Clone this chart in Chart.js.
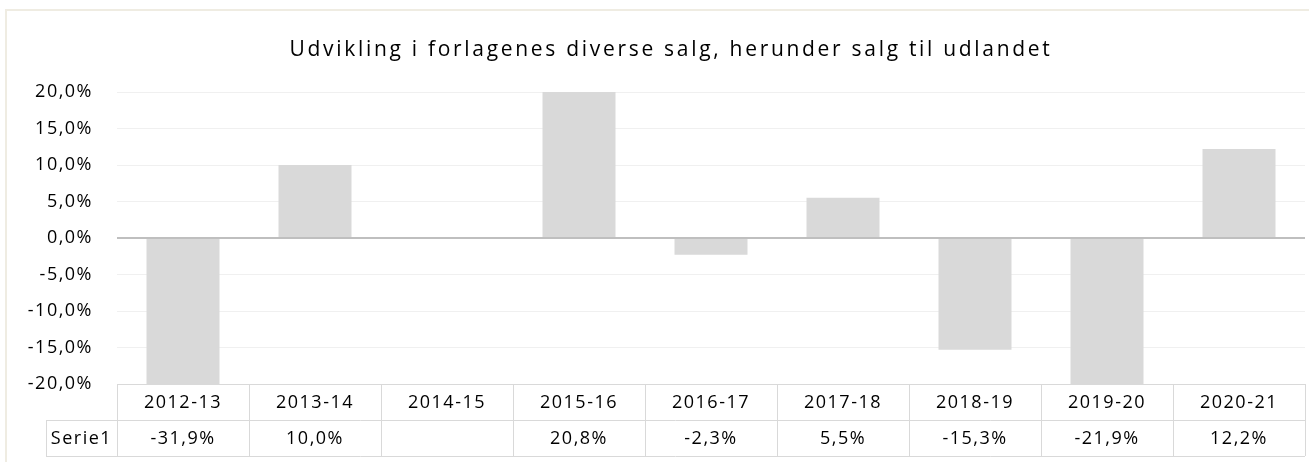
<!DOCTYPE html>
<html>
<head>
<meta charset="utf-8">
<script src="https://cdn.jsdelivr.net/npm/chart.js@4.4.1/dist/chart.umd.min.js"></script>
<style>
  html, body { margin: 0; padding: 0; background: #fff; }
  #wrap { width: 1309px; height: 462px; position: relative; }
</style>
</head>
<body>
<div id="wrap"><canvas id="chart" width="1309" height="462"></canvas></div>
<script>
// data
var categories = ['2012-13', '2013-14', '2014-15', '2015-16', '2016-17', '2017-18', '2018-19', '2019-20', '2020-21'];
var serie1 = [-31.9, 10.0, null, 20.8, -2.3, 5.5, -15.3, -21.9, 12.2];
var seriesName = 'Serie1';
var chartTitle = 'Udvikling i forlagenes diverse salg, herunder salg til udlandet';
var yMin = -20;
var yMax = 20;
var yStep = 5;

var FONT = '"Open Sans", "Liberation Sans", sans-serif';

function fmtPct(v) {
    return v.toFixed(1).replace('.', ',') + '%';
}

// frame, title (needs letter spacing) and the data table under the plot
var tablePlugin = {
    id: 'dataTable',
    beforeDraw: function(chart) {
        var ctx = chart.ctx;
        ctx.save();
        ctx.strokeStyle = '#efece2';
        ctx.lineWidth = 2;
        ctx.beginPath();
        ctx.moveTo(6, 462);
        ctx.lineTo(6, 10);
        ctx.lineTo(1309, 10);
        ctx.stroke();

        ctx.fillStyle = '#000';
        ctx.font = '21px ' + FONT;
        ctx.letterSpacing = '2.7px';
        ctx.textAlign = 'center';
        ctx.textBaseline = 'alphabetic';
        ctx.fillText(chartTitle, 671, 56);
        ctx.restore();
        // ticks and table text are a bit wider than the font
        ctx.letterSpacing = '1.5px';
    },
    afterDraw: function(chart) {
        var ctx = chart.ctx;
        var x = chart.scales.x;
        var area = chart.chartArea;
        var top = area.bottom;
        var rowH = 36;
        var half = (x.getPixelForValue(1) - x.getPixelForValue(0)) / 2;
        var left = x.getPixelForValue(0) - half;
        var right = x.getPixelForValue(categories.length - 1) + half;
        var labelLeft = 46;

        ctx.save();
        ctx.strokeStyle = '#d9d9d9';
        ctx.lineWidth = 1;
        ctx.beginPath();
        ctx.moveTo(left, top + 0.5);
        ctx.lineTo(right, top + 0.5);
        ctx.moveTo(labelLeft, top + rowH + 0.5);
        ctx.lineTo(right, top + rowH + 0.5);
        ctx.moveTo(labelLeft, top + 2 * rowH + 0.5);
        ctx.lineTo(right, top + 2 * rowH + 0.5);
        ctx.moveTo(labelLeft + 0.5, top + rowH);
        ctx.lineTo(labelLeft + 0.5, top + 2 * rowH);
        for (var i = 0; i <= categories.length; i++) {
            var lx = Math.round(left + i * half * 2) + 0.5;
            ctx.moveTo(lx, top);
            ctx.lineTo(lx, top + 2 * rowH);
        }
        ctx.stroke();

        ctx.fillStyle = '#000';
        ctx.font = '18px ' + FONT;
        ctx.letterSpacing = '1.5px';
        ctx.textAlign = 'center';
        ctx.textBaseline = 'middle';
        for (var j = 0; j < categories.length; j++) {
            var cx = x.getPixelForValue(j);
            ctx.fillText(categories[j], cx, top + rowH / 2 + 1);
            if (serie1[j] !== null) {
                ctx.fillText(fmtPct(serie1[j]), cx, top + rowH * 1.5 + 1);
            }
        }
        ctx.fillText(seriesName, (labelLeft + left) / 2, top + rowH * 1.5 + 1);
        ctx.restore();
    }
};

new Chart(document.getElementById('chart'), {
    type: 'bar',
    data: {
        labels: categories,
        datasets: [{
            label: seriesName,
            data: serie1,
            backgroundColor: '#d9d9d9',
            borderWidth: 0,
            barPercentage: 0.553,
            categoryPercentage: 1
        }]
    },
    options: {
        responsive: false,
        animation: false,
        layout: { padding: { left: 10, right: 4, top: 92, bottom: 78 } },
        plugins: {
            legend: { display: false },
            tooltip: { enabled: false },
            title: { display: false }
        },
        scales: {
            x: { display: false },
            y: {
                min: yMin,
                max: yMax,
                afterFit: function(scale) { scale.width = 107; },
                border: { display: false },
                grid: {
                    drawTicks: false,
                    color: function(c) { return c.tick && c.tick.value === 0 ? '#bfbfbf' : '#f0f0f0'; },
                    lineWidth: function(c) { return c.tick && c.tick.value === 0 ? 2 : 1; }
                },
                ticks: {
                    stepSize: yStep,
                    padding: 24,
                    color: '#000',
                    font: { family: FONT, size: 18 },
                    callback: function(v) { return fmtPct(v); }
                }
            }
        }
    },
    plugins: [tablePlugin]
});
</script>
</body>
</html>
